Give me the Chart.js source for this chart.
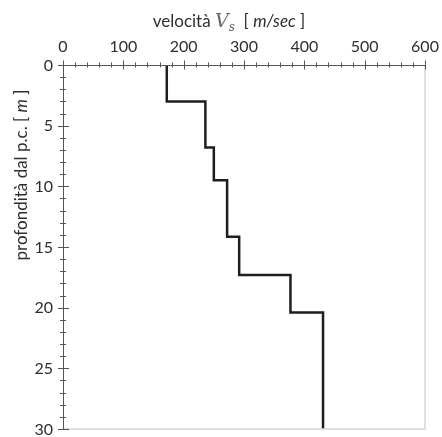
<!DOCTYPE html>
<html>
<head>
<meta charset="utf-8">
<script src="https://cdn.jsdelivr.net/npm/chart.js@4"></script>
<style>
  html, body { margin: 0; padding: 0; background: #fff; }
  #wrap { width: 442px; height: 437px; position: relative; }
</style>
</head>
<body>
<div id="wrap"><canvas id="profilo"></canvas></div>
<script>
// profilo Vs per strati
const layerTop = [0, 3, 6.8, 9.5, 14.15, 17.3, 20.4];
const layerBottom = [3, 6.8, 9.5, 14.15, 17.3, 20.4, 30];
const velocity = [172, 236, 250, 272, 292, 377, 431];

const xTicks = [0, 100, 200, 300, 400, 500, 600];
const yTicks = [0, 5, 10, 15, 20, 25, 30];

const FONT = 'Lato, "Open Sans", sans-serif';
const TESTO = '#2e2e2e';

// punti della spezzata a gradini
const punti = [];
velocity.forEach((v, i) => {
    punti.push({ x: v, y: layerTop[i] });
    punti.push({ x: v, y: layerBottom[i] });
});

// assi, tacche principali/secondarie, etichette e bordi grigi
const assi = {
    id: 'assi',
    afterDraw(chart) {
        const ctx = chart.ctx;
        const a = chart.chartArea;
        const sx = chart.scales.x, sy = chart.scales.y;
        ctx.save();
        ctx.strokeStyle = '#d6d6d6';
        ctx.lineWidth = 1.5;
        ctx.beginPath();
        ctx.moveTo(a.right, a.top);
        ctx.lineTo(a.right, a.bottom);
        ctx.lineTo(a.left, a.bottom);
        ctx.stroke();

        ctx.strokeStyle = '#555';
        ctx.lineWidth = 1;
        for (let v = 0; v <= 600; v += 20) {
            const px = Math.round(sx.getPixelForValue(v)) + 0.5;
            const major = v % 100 === 0;
            ctx.beginPath();
            ctx.moveTo(px, a.top - (major ? 4.5 : 2.5));
            ctx.lineTo(px, a.top + (major ? 4.5 : 2.5));
            ctx.stroke();
        }
        for (let d = 0; d <= 30; d += 1) {
            const py = Math.round(sy.getPixelForValue(d)) + 0.5;
            const major = d % 5 === 0;
            ctx.beginPath();
            ctx.moveTo(a.left - (major ? 5 : 3), py);
            ctx.lineTo(a.left + (major ? 6 : 3), py);
            ctx.stroke();
        }
        ctx.beginPath();
        ctx.moveTo(Math.round(a.left) + 0.5, a.bottom);
        ctx.lineTo(Math.round(a.left) + 0.5, a.top + 0.5);
        ctx.lineTo(a.right, a.top + 0.5);
        ctx.stroke();

        // etichette numeriche
        ctx.fillStyle = TESTO;
        ctx.font = '16px ' + FONT;
        ctx.textAlign = 'center';
        ctx.textBaseline = 'alphabetic';
        xTicks.forEach(v => ctx.fillText(String(v), sx.getPixelForValue(v), a.top - 13));
        ctx.textAlign = 'right';
        ctx.textBaseline = 'middle';
        yTicks.forEach(v => ctx.fillText(String(v), a.left - 10, sy.getPixelForValue(v) + 0.5));
        ctx.restore();
    }
};

// titoli con parti in corsivo
function scriviMisto(ctx, parti, cx, cy) {
    let w = 0;
    parti.forEach(p => { ctx.font = p.font; w += ctx.measureText(p.t).width; });
    let x = cx - w / 2;
    parti.forEach(p => {
        ctx.font = p.font;
        ctx.fillStyle = p.color || TESTO;
        ctx.fillText(p.t, x + (p.dx || 0), cy + (p.dy || 0));
        x += ctx.measureText(p.t).width;
    });
}

const titoli = {
    id: 'titoli',
    afterDraw(chart) {
        const ctx = chart.ctx;
        ctx.save();
        ctx.textBaseline = 'alphabetic';
        const norm = '17px ' + FONT;
        const ital = 'italic 17px ' + FONT;
        scriviMisto(ctx, [
            { t: 'velocità ', font: norm },
            { t: 'V', font: 'italic 19px "DejaVu Serif", serif', color: '#666' },
            { t: 's', font: 'italic 12px "DejaVu Serif", serif', dy: 4, color: '#666' },
            { t: '  [ ', font: norm },
            { t: 'm/sec', font: ital },
            { t: ' ]', font: norm }
        ], 229, 27);

        ctx.translate(27, 175);
        ctx.rotate(-Math.PI / 2);
        const n2 = '17px ' + FONT;
        scriviMisto(ctx, [
            { t: 'profondità dal p.c. [ ', font: n2 },
            { t: 'm', font: 'italic 17px ' + FONT },
            { t: ' ]', font: n2 }
        ], 0, 0);
        ctx.restore();
    }
};

new Chart(document.getElementById('profilo'), {
    type: 'scatter',
    data: {
        datasets: [{
            data: punti,
            showLine: true,
            borderColor: '#1e1e1e',
            borderWidth: 2.5,
            pointRadius: 0,
            fill: false,
            tension: 0
        }]
    },
    options: {
        responsive: true,
        maintainAspectRatio: false,
        animation: false,
        layout: { padding: { top: 0, right: 17, bottom: 8, left: 0 } },
        plugins: {
            legend: { display: false },
            tooltip: { enabled: false }
        },
        scales: {
            x: {
                type: 'linear',
                position: 'top',
                min: 0,
                max: 600,
                grid: { display: false, drawTicks: false },
                border: { display: false },
                afterFit: s => { s.height = 65; },
                ticks: { display: false }
            },
            y: {
                type: 'linear',
                reverse: true,
                min: 0,
                max: 30,
                grid: { display: false, drawTicks: false },
                border: { display: false },
                afterFit: s => { s.width = 63; },
                ticks: { display: false }
            }
        }
    },
    plugins: [assi, titoli]
});
</script>
</body>
</html>
